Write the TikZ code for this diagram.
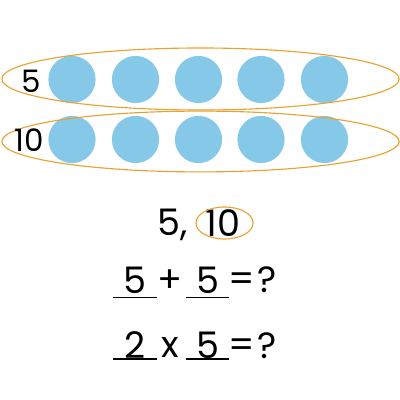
\documentclass[tikz,border=0pt]{standalone}
\usepackage{fontspec}
\setmainfont{Poppins}
\usepackage{xcolor}
\usetikzlibrary{shapes.geometric, positioning}

\definecolor{dotblue}{HTML}{85C8E8}
\definecolor{ringorange}{HTML}{E9A230}

\begin{document}
\begin{tikzpicture}[
    x=0.025cm, y=-0.025cm,
    dot/.style={circle, fill=dotblue, minimum size=1.18cm, inner sep=0pt},
    ring/.style={ellipse, draw=ringorange, line width=0.8pt, inner sep=0pt},
    rowlabel/.style={font=\fontsize{22}{22}\selectfont, inner sep=0pt},
    sumtext/.style={font=\fontsize{26}{26}\selectfont, inner sep=0pt},
    blank/.style={draw=black, line width=0.9pt},
  ]
  \useasboundingbox (0,0) rectangle (400,400);

  % Rows of dots
  \foreach \x [count=\i] in {72,135.5,198.5,261,324.5} {
    \node[dot] (top\i) at (\x,79.5) {};
    \node[dot] (bot\i) at (\x,139.5) {};
  }

  % Rings round each row
  \node[ring, minimum width=9.93cm, minimum height=1.55cm] (topring) at (200.5,79) {};
  \node[ring, minimum width=9.93cm, minimum height=1.52cm] (botring) at (200.5,141.5) {};

  % Row counts
  \node[rowlabel] (five) at (31,81) {5};
  \node[rowlabel] (ten) at (29,140) {10};

  % Counting result
  \node[sumtext] (countfive) at (173,225) {5,};
  \node[sumtext] (countten) at (223,223.5) {10};
  \node[ring, minimum width=1.43cm, minimum height=0.8cm] (tenring) at (224.5,223) {};

  % Addition
  \node[sumtext] (addone) at (135,280) {5};
  \node[sumtext] (plus) at (169.5,281) {+};
  \node[sumtext] (addtwo) at (207.5,280) {5};
  \node[sumtext] (addeq) at (242,282.5) {=};
  \node[sumtext] (addq) at (267,280) {?};
  \draw[blank] (113,297.7) -- (157,297.7);
  \draw[blank] (186,297.7) -- (229,297.7);

  % Multiplication
  \node[sumtext] (groups) at (135,345.5) {2};
  \node[sumtext] (times) at (170,347.5) {x};
  \node[sumtext] (pergroup) at (207.5,345.5) {5};
  \node[sumtext] (muleq) at (242,348) {=};
  \node[sumtext] (mulq) at (267,345.5) {?};
  \draw[blank] (113,359) -- (157,359);
  \draw[blank] (186,359) -- (229,359);

\end{tikzpicture}
\end{document}
